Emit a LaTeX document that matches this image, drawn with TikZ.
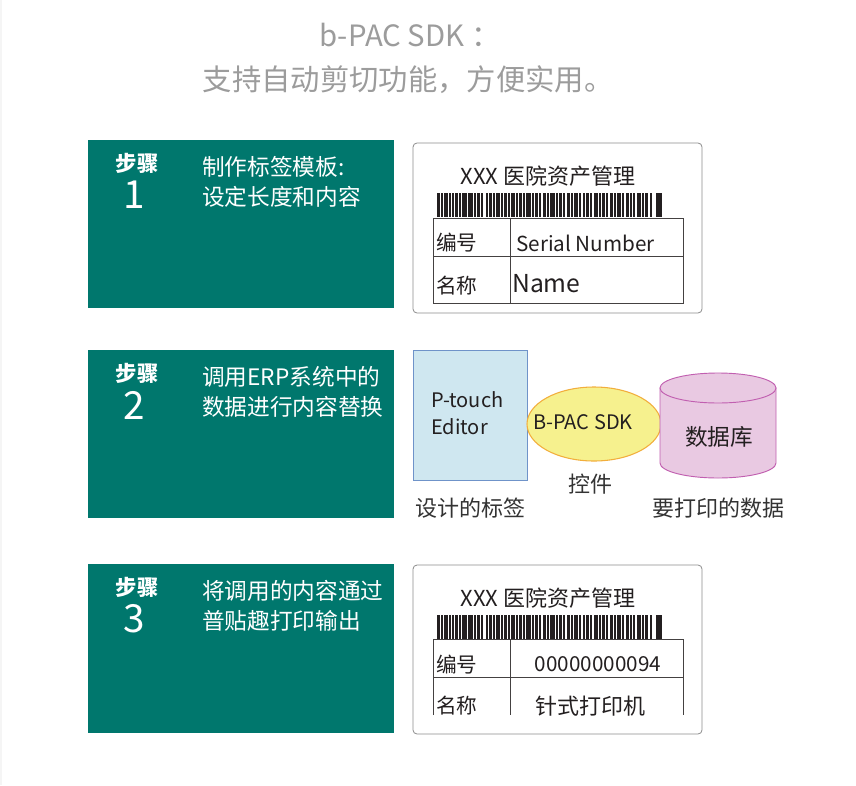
\documentclass[tikz,border=0pt]{standalone}
\usepackage{fontspec}
\setmainfont{Noto Sans CJK SC}
\usetikzlibrary{shapes.geometric}

\definecolor{stepteal}{HTML}{00776D}
\definecolor{titlegray}{HTML}{9C9C9C}
\definecolor{inkdark}{HTML}{231F20}
\definecolor{capgray}{HTML}{333333}
\definecolor{cardline}{HTML}{8C8C8C}
\definecolor{editorfill}{HTML}{CFE7F0}
\definecolor{editorline}{HTML}{6F93C9}
\definecolor{sdkfill}{HTML}{F6F18E}
\definecolor{sdkline}{HTML}{F2AE3C}
\definecolor{dbfill}{HTML}{E9C9E2}
\definecolor{dbline}{HTML}{C15FB0}

\newcommand{\setfs}[2]{\fontsize{#1}{#2}\selectfont}
% barcode strip, #1 = top edge
\newcommand{\labelbarcode}[1]{%
  \foreach \bx/\bw in {437/2.5,441/2,444/3.5,449/1.5,452/1.5,455/2.5,459/1.5,462/4.5,468/4.5,474/1.5,477/2.5,481/1.5,486/1.5,489/2.5,493/1.5,496/3.5,501/1.5,504/2.5,508/1.5,511/3.5,516/1.5,519/2.5,523/1.5,526/4.5,532/1.5,535/2.5,539/1.5,543/2.5,547/1.5,550/4.5,556/1.5,559/2.5,563/1.5,567/2.5,571/1.5,574/3.5,579/1.5,583/1.5,586/2.5,590/1.5,594/3.5,599/1.5,602/2.5,606/1.5,610/2.5,614/1.5,617/3.5,622/1.5,626/2.5,630/1.5,633/1.5,637/3.5,642/1.5,645/2.5,650/1.5,656/5.5}
    \fill[inkdark] (\bx,#1) rectangle ++(\bw,24);
}

\begin{document}
\begin{tikzpicture}[x=0.75pt,y=-0.75pt,
  title/.style={text=titlegray,font=\setfs{22}{30},inner sep=0pt},
  stepbox/.style={fill=stepteal},
  steptag/.style={text=white,font=\bfseries\setfs{16}{18},inner sep=0pt},
  stepnum/.style={text=white,font=\setfs{29}{30},inner sep=0pt},
  steptext/.style={text=white,font=\setfs{17}{22.5},anchor=west,align=left,inner sep=0pt},
  card/.style={draw=cardline,fill=white,rounded corners=3pt,line width=0.6pt},
  cell/.style={draw=inkdark!85,line width=0.5pt},
  cardhead/.style={text=inkdark,font=\setfs{16.5}{18},inner sep=0pt},
  cardtext/.style={text=inkdark,font=\setfs{15.5}{18},inner sep=0pt},
  editor/.style={draw=editorline,fill=editorfill,line width=0.7pt,minimum width=85.5pt,minimum height=97.5pt,inner sep=0pt},
  sdkoval/.style={ellipse,draw=sdkline,fill=sdkfill,line width=0.8pt,minimum width=100.5pt,minimum height=55.5pt,inner sep=0pt},
  figtext/.style={text=inkdark,font=\setfs{15}{20},inner sep=0pt},
  caption/.style={text=capgray,font=\setfs{16.5}{18},inner sep=0pt}]

  \fill[white] (0,0) rectangle (856,785);
  \useasboundingbox (0,0) rectangle (856,785);
  \fill[gray!8] (0,0) rectangle (2,785);

  % heading
  \node[title] (head1) at (410,35) {b-PAC SDK ：};
  \node[title] (head2) at (408,80) {支持自动剪切功能，方便实用。};

  % step boxes
  \fill[stepbox] (88,140) rectangle (394,308);
  \node[steptag] (tag1) at (137,163) {步骤};
  \node[stepnum] (num1) at (134,195) {1};
  \node[steptext] (text1) at (202,182) {制作标签模板:\\设定长度和内容};

  \fill[stepbox] (88,350) rectangle (394,518);
  \node[steptag] (tag2) at (137,373) {步骤};
  \node[stepnum] (num2) at (134,405) {2};
  \node[steptext] (text2) at (202,392) {调用ERP系统中的\\数据进行内容替换};

  \fill[stepbox] (88,564) rectangle (394,733);
  \node[steptag] (tag3) at (137,587) {步骤};
  \node[stepnum] (num3) at (134,619) {3};
  \node[steptext] (text3) at (202,606) {将调用的内容通过\\普贴趣打印输出};

  % label template
  \draw[card] (413,143) rectangle (702,313);
  \node[cardhead] (lab1) at (548,176) {XXX 医院资产管理};
  \labelbarcode{193}
  \draw[cell] (433,218) rectangle (683,303);
  \draw[cell] (433,256) -- (683,256);
  \draw[cell] (510,218) -- (510,303);
  \node[cardtext,anchor=west] (no1) at (436,243) {编号};
  \node[cardtext,anchor=west] (sn1) at (516,243) {Serial Number};
  \node[cardtext,anchor=west] (nm1) at (436,286) {名称};
  \node[cardtext,anchor=west,font=\setfs{18.5}{20}] (name1) at (512,284) {Name};

  % data replacement
  \node[editor,anchor=north west] (editor) at (413,350) {};
  \node[figtext,anchor=west,align=left] (editortxt) at (431,413) {P-touch\\Editor};
  \node[sdkoval] (sdk) at (594,424) {};
  \node[figtext,font=\setfs{15}{16}] (sdktxt) at (583,422) {B-PAC SDK};
  \filldraw[fill=dbfill,draw=dbline,line width=0.7pt] (660,388) -- (660,463)
    arc[start angle=180,end angle=0,x radius=58,y radius=15] -- (776,388) -- cycle;
  \filldraw[fill=dbfill,draw=dbline,line width=0.7pt] (718,388) ellipse [x radius=58,y radius=15];
  \node[figtext,font=\setfs{17}{18}] (dbtxt) at (719,437) {数据库};
  \node[caption] (ctrlcap) at (590,484) {控件};
  \node[caption] (designcap) at (470,508) {设计的标签};
  \node[caption] (datacap) at (718,508) {要打印的数据};

  % printed label
  \draw[card] (413,565) rectangle (702,734);
  \node[cardhead] (lab3) at (548,598) {XXX 医院资产管理};
  \labelbarcode{615}
  \draw[cell] (433,715) -- (433,639) -- (683,639) -- (683,715);
  \draw[cell] (433,677) -- (683,677);
  \draw[cell] (510,639) -- (510,715);
  \begin{scope}
    \clip (433,639) rectangle (683,716);
    \node[cardtext,anchor=west] (no3) at (436,665) {编号};
    \node[cardtext] (sn3) at (598,664) {00000000094};
    \node[cardtext,anchor=west] (nm3) at (436,706) {名称};
    \node[cardtext,font=\setfs{16.5}{18}] (name3) at (590,706) {针式打印机};
  \end{scope}
\end{tikzpicture}
\end{document}
